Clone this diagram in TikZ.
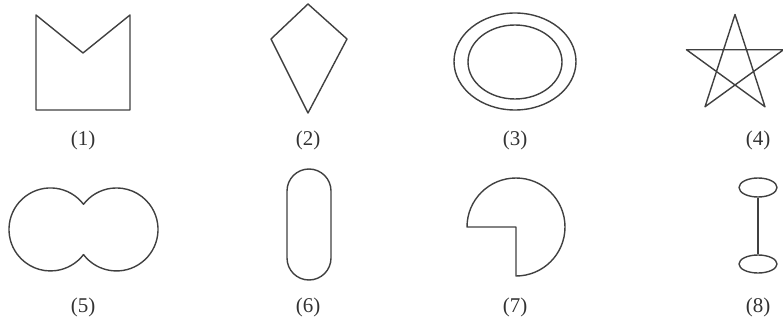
\documentclass[tikz,border=0pt]{standalone}
\usepackage{fontspec}
\setmainfont{Liberation Serif}
\usetikzlibrary{shapes.geometric}
\tikzset{
  fig/.style={draw=black!75,line width=1.4pt,line join=round},
  lab/.style={font=\fontsize{21}{21}\selectfont,text=black!80}
}
\begin{document}
\begin{tikzpicture}[x=1pt,y=1pt]
        \useasboundingbox (0,0) rectangle (783,324);
        % top row
        \draw[fig](36,309)--(83,271)--(130,309)--(130,214)--(36,214)--cycle;
        \draw[fig](308,320)--(271,285)--(308,211)--(347,285)--cycle;
        \draw[fig](515,262.5) ellipse[x radius=61,y radius=48.5];
        \draw[fig](515,262) ellipse[x radius=47,y radius=37];
        \draw[fig,shift={(735,258.5)}](90:51)--(234:51)--(18:51)--(162:51)--(306:51)--cycle;
        % bottom row
        \draw[fig](83.5,119.7) arc[start angle=37.3,end angle=322.7,radius=41.5]
                   arc[start angle=-142.7,end angle=142.7,radius=41.5]--cycle;
        \draw[fig,rounded corners=22](287,44) rectangle (331,155);
        \draw[fig](516,48) arc[start angle=-90,end angle=180,radius=49]--(516,97)--cycle;
        \node[fig,ellipse,inner sep=0,minimum width=38,minimum height=19] (ringtop) at (758,136.5) {};
        \node[fig,ellipse,inner sep=0,minimum width=38,minimum height=18] (ringbot) at (758,60) {};
        \draw[fig](ringtop)--(ringbot);
        % labels
        \foreach \n/\x/\y in {1/83/184,2/308/184,3/515/184,4/758/184,5/83/17,6/308/17,7/515/17,8/758/17}
          \node[lab] (label\n) at (\x,\y) {(\n)};
\end{tikzpicture}
\end{document}
